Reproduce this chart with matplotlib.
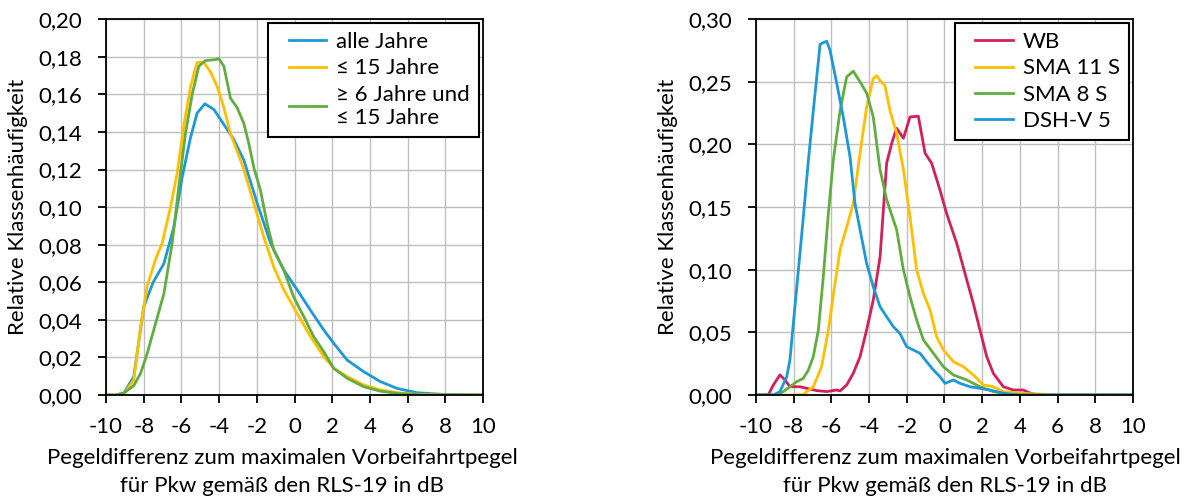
import numpy as np
import matplotlib.pyplot as plt
from matplotlib.ticker import MultipleLocator, FuncFormatter
from matplotlib.legend_handler import HandlerLine2D

plt.rcParams['font.family'] = ['Lato', 'DejaVu Sans']

# Left panel: age groups
x_alle = [-10, -9.5, -9.06, -8.53, -8.0, -7.5, -6.93, -6.4, -5.96, -5.52, -5.17, -4.76, -4.28, -3.75,
          -3.22, -2.69, -1.98, -1.28, -0.57, 0.14, 0.85, 1.55, 2.08, 2.79, 3.67, 4.56, 5.44, 6.5, 7.9, 10]
y_alle = [0, 0, 0.001, 0.0097, 0.047, 0.060, 0.070, 0.0895, 0.116, 0.137, 0.150, 0.155, 0.152, 0.144,
          0.136, 0.125, 0.102, 0.081, 0.0665, 0.056, 0.045, 0.0346, 0.0275, 0.0186, 0.0124, 0.0071,
          0.0035, 0.0012, 0.0003, 0]

x_15 = [-10, -9.5, -9.06, -8.53, -8.17, -7.82, -7.38, -7.02, -6.58, -6.23, -5.88, -5.52, -5.17, -4.81,
        -4.46, -4.1, -3.75, -3.4, -3.05, -2.69, -2.16, -1.63, -1.1, -0.57, 0.14, 0.85, 1.55, 2.08,
        2.79, 3.67, 4.56, 5.44, 6.5, 8, 10]
y_15 = [0, 0, 0.0005, 0.008, 0.036, 0.058, 0.072, 0.081, 0.100, 0.118, 0.143, 0.164, 0.177, 0.177,
        0.172, 0.164, 0.153, 0.139, 0.130, 0.120, 0.102, 0.084, 0.068, 0.056, 0.0434, 0.031, 0.0204,
        0.0142, 0.0098, 0.0053, 0.0027, 0.0012, 0.0004, 0, 0]

x_6_15 = [-10, -9.5, -9.06, -8.53, -8.17, -7.82, -7.47, -6.93, -6.49, -6.14, -5.79, -5.43, -5.08, -4.73,
          -4.2, -4.02, -3.75, -3.4, -3.05, -2.69, -2.43, -2.16, -1.81, -1.45, -1.1, -0.57, -0.04, 0.49,
          1.02, 1.55, 2.08, 2.79, 3.67, 4.56, 5.5, 7, 10]
y_6_15 = [0, 0, 0.001, 0.005, 0.0115, 0.022, 0.0346, 0.054, 0.081, 0.111, 0.139, 0.160, 0.175, 0.178,
          0.1785, 0.179, 0.175, 0.158, 0.153, 0.1445, 0.134, 0.121, 0.109, 0.091, 0.077, 0.0665, 0.052,
          0.0417, 0.031, 0.023, 0.0142, 0.0089, 0.0044, 0.002, 0.0008, 0, 0]

# Right panel: surface types
x_wb = [-10, -9.35, -9.08, -8.73, -8.46, -8.2, -7.67, -7.31, -6.78, -6.25, -5.72, -5.54, -5.19, -4.84,
        -4.48, -4.13, -3.78, -3.42, -3.07, -2.8, -2.54, -2.18, -1.83, -1.39, -1.03, -0.68, -0.24, 0.11,
        0.65, 1.18, 1.53, 1.88, 2.24, 2.59, 3.12, 3.65, 4.18, 4.54, 5, 10]
y_wb = [0, 0, 0.008, 0.016, 0.012, 0.0066, 0.0066, 0.0053, 0.0035, 0.0027, 0.004, 0.0032, 0.008, 0.0173,
        0.0306, 0.052, 0.0758, 0.110, 0.185, 0.201, 0.213, 0.205, 0.222, 0.2226, 0.193, 0.185, 0.1636,
        0.145, 0.121, 0.092, 0.073, 0.052, 0.0306, 0.0173, 0.0066, 0.004, 0.004, 0.0015, 0, 0]

x_sma11 = [-10, -7.8, -7.49, -6.96, -6.52, -6.16, -5.81, -5.54, -5.19, -4.84, -4.48, -4.13, -3.78, -3.6,
           -3.42, -3.16, -2.89, -2.54, -2.18, -1.83, -1.48, -1.12, -0.77, -0.42, -0.06, 0.47, 1.0, 1.53,
           2.06, 2.59, 3.12, 4.0, 5.07, 6, 10]
y_sma11 = [0, 0, 0.0005, 0.0066, 0.0226, 0.052, 0.089, 0.116, 0.134, 0.153, 0.193, 0.230, 0.2525, 0.255,
           0.251, 0.247, 0.227, 0.209, 0.180, 0.142, 0.100, 0.081, 0.068, 0.0466, 0.036, 0.0266, 0.0226,
           0.016, 0.008, 0.0066, 0.0027, 0.0013, 0.0008, 0, 0]

x_sma8 = [-10, -8.9, -8.55, -8.2, -7.84, -7.49, -7.22, -6.96, -6.69, -6.43, -6.16, -5.9, -5.54, -5.19,
          -4.84, -4.48, -4.13, -3.78, -3.42, -3.07, -2.54, -2.18, -1.83, -1.48, -1.12, -0.59, -0.06, 0.47,
          1.18, 1.88, 2.59, 3.3, 4, 10]
y_sma8 = [0, 0, 0.0027, 0.0066, 0.0106, 0.0133, 0.020, 0.0306, 0.052, 0.0945, 0.145, 0.1875, 0.227, 0.254,
          0.2585, 0.250, 0.241, 0.222, 0.180, 0.156, 0.132, 0.100, 0.0785, 0.060, 0.044, 0.0333, 0.0226,
          0.016, 0.012, 0.0066, 0.0027, 0.001, 0, 0]

x_dsh = [-10, -9.08, -8.73, -8.37, -8.2, -8.02, -7.75, -7.49, -7.22, -6.96, -6.6, -6.25, -6.07, -5.72,
         -5.37, -5.01, -4.75, -4.48, -4.13, -3.78, -3.42, -3.07, -2.71, -2.36, -2.01, -1.65, -1.3, -0.95,
         -0.59, -0.24, 0.03, 0.47, 0.82, 1.35, 1.88, 2.41, 3.12, 3.83, 10]
y_dsh = [0, 0, 0.0027, 0.0146, 0.028, 0.057, 0.100, 0.142, 0.1875, 0.227, 0.280, 0.2825, 0.275, 0.249,
         0.222, 0.190, 0.153, 0.132, 0.105, 0.0865, 0.0705, 0.0625, 0.0545, 0.049, 0.0386, 0.0359, 0.0333,
         0.0266, 0.020, 0.0146, 0.0093, 0.012, 0.0093, 0.0066, 0.0053, 0.004, 0.0013, 0, 0]

blue = '#1d98d8'
yellow = '#ffbf00'
green = '#62ad3f'
red = '#d41f5c'

xlabel = "Pegeldifferenz zum maximalen Vorbeifahrtpegel\nfür Pkw gemäß den RLS-19 in dB"
ylabel = "Relative Klassenhäufigkeit"
fs = 16


class PaddedLine(HandlerLine2D):
    # legend line with some empty space in front of it
    def get_xdata(self, legend, xdescent, ydescent, width, height, fontsize):
        pad = 0.23 * width
        return [-xdescent + pad, -xdescent + width], [-xdescent + 0.5 * width]


fig = plt.figure(figsize=(11.93, 5.01), dpi=100)
ax1 = fig.add_axes([0.0889, 0.2116, 0.316, 0.750])
ax2 = fig.add_axes([0.6337, 0.2116, 0.316, 0.750])


def style(ax, ymax, ystep, xlab_x):
    ax.set_xlim(-10, 10)
    ax.set_ylim(0, ymax)
    ax.xaxis.set_major_locator(MultipleLocator(2))
    ax.yaxis.set_major_locator(MultipleLocator(ystep))
    ax.xaxis.set_major_formatter(FuncFormatter(lambda v, p: f"{v:.0f}"))
    ax.yaxis.set_major_formatter(FuncFormatter(lambda v, p: f"{v:.2f}".replace('.', ',')))
    ax.grid(True, color='#bfbfbf', linewidth=1.0)
    ax.set_axisbelow(True)
    for s in ax.spines.values():
        s.set_linewidth(1.3)
        s.set_color('black')
    ax.tick_params(direction='out', length=6, width=1.3, labelsize=fs)
    ax.tick_params(axis='x', pad=10)
    ax.tick_params(axis='y', pad=11)
    ax.set_xlabel(xlabel, fontsize=fs, linespacing=1.5)
    ax.set_ylabel(ylabel, fontsize=fs)
    ax.xaxis.set_label_coords(xlab_x, -0.142)
    ax.yaxis.set_label_coords(-0.208, 0.5)


lw = 2.0
ax1.plot(x_alle, y_alle, color=blue, lw=lw, label="alle Jahre")
ax1.plot(x_15, y_15, color=yellow, lw=lw, label="≤ 15 Jahre")
ax1.plot(x_6_15, y_6_15, color=green, lw=lw, label="≥ 6 Jahre und\n≤ 15 Jahre")
style(ax1, 0.20, 0.02, 0.467)

ax2.plot(x_wb, y_wb, color=red, lw=lw, label="WB")
ax2.plot(x_sma11, y_sma11, color=yellow, lw=lw, label="SMA 11 S")
ax2.plot(x_sma8, y_sma8, color=green, lw=lw, label="SMA 8 S")
ax2.plot(x_dsh, y_dsh, color=blue, lw=lw, label="DSH-V 5")
style(ax2, 0.30, 0.05, 0.501)

for ax in (ax1, ax2):
    leg = ax.legend(loc='upper right', fontsize=fs, fancybox=False, framealpha=1,
                    edgecolor='black', borderaxespad=0.16, handlelength=2.2,
                    labelspacing=0.28, borderpad=0.42, handletextpad=0.45,
                    handler_map={plt.Line2D: PaddedLine()})
    leg.get_frame().set_linewidth(1.5)

fig.savefig("out.png", dpi=100)
